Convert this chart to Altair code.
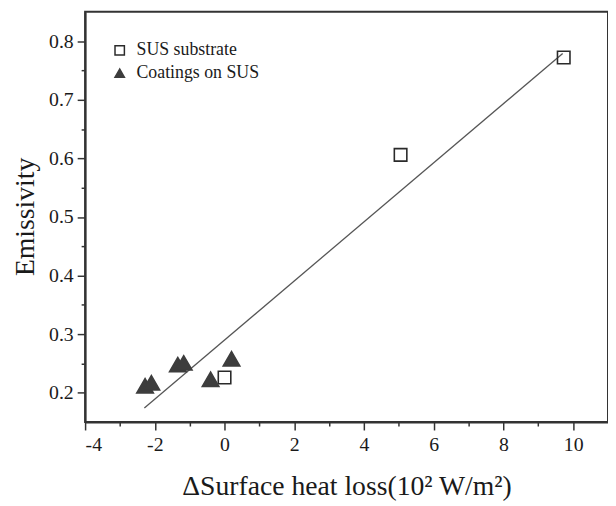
import altair as alt
import pandas as pd

series_names = ["SUS substrate", "Coatings on SUS"]

sus_x = [0.0, 5.05, 9.73]
sus_y = [0.226, 0.606, 0.772]

coat_x = [-2.28, -2.10, -1.34, -1.17, -0.40, 0.20]
coat_y = [0.212, 0.217, 0.248, 0.251, 0.223, 0.258]

fit_x = [-2.3, 9.7]
fit_y = [0.174, 0.779]

x_major = [-4, -2, 0, 2, 4, 6, 8, 10]
x_minor = [-3, -1, 1, 3, 5, 7, 9]
y_major = [0.2, 0.3, 0.4, 0.5, 0.6, 0.7, 0.8]
y_minor = [0.25, 0.35, 0.45, 0.55, 0.65, 0.75]

sus_df = pd.DataFrame({"x": sus_x, "y": sus_y, "series": series_names[0]})
coat_df = pd.DataFrame({"x": coat_x, "y": coat_y, "series": series_names[1]})
fit_df = pd.DataFrame({"x": fit_x, "y": fit_y})

FONT = "Liberation Serif"
xs = alt.Scale(domain=[-4, 11], nice=False, zero=False)
ys = alt.Scale(domain=[0.15, 0.85], nice=False, zero=False)

x_major_axis = alt.Axis(
    orient="bottom", values=x_major, labelExpr="'' + datum.value",
    tickSize=8, labelPadding=5, title="ΔSurface heat loss(10² W/m²)",
    titleY=73, titleBaseline="alphabetic",
)
y_major_axis = alt.Axis(
    orient="left", values=y_major, format=".1f", tickSize=8, labelPadding=4,
    title="Emissivity", titleX=-52, titleY=207, titleBaseline="alphabetic",
    titleAlign="center", titleAngle=270,
)
x_minor_axis = alt.Axis(orient="bottom", values=x_minor, labels=False, tickSize=4,
                        domain=False, title=None)
y_minor_axis = alt.Axis(orient="left", values=y_minor, labels=False, tickSize=4,
                        domain=False, title=None)

legend = alt.Legend(
    title=None, orient="none", legendX=26, legendY=30, symbolSize=90,
    labelFontSize=18, labelFont=FONT, labelColor="#1a1a1a", padding=0,
    rowPadding=5, labelOffset=8, symbolStrokeWidth=1.5,
)
shape_scale = alt.Scale(domain=series_names, range=["square", "triangle-up"])
fill_scale = alt.Scale(domain=series_names, range=["transparent", "#3d3d3d"])
stroke_scale = alt.Scale(domain=series_names, range=["#2a2a2a", "#3d3d3d"])

line = alt.Chart(fit_df).mark_line(color="#555555", strokeWidth=1.3).encode(
    x=alt.X("x:Q", scale=xs, axis=x_major_axis),
    y=alt.Y("y:Q", scale=ys, axis=y_major_axis),
)
minor = alt.Chart(fit_df).mark_point(opacity=0).encode(
    x=alt.X("x:Q", scale=xs, axis=x_minor_axis),
    y=alt.Y("y:Q", scale=ys, axis=y_minor_axis),
)

def pts(df, size):
    return alt.Chart(df).mark_point(filled=True, size=size, strokeWidth=1.6, opacity=1).encode(
        x=alt.X("x:Q", scale=xs, axis=None),
        y=alt.Y("y:Q", scale=ys, axis=None),
        shape=alt.Shape("series:N", scale=shape_scale, legend=legend),
        fill=alt.Fill("series:N", scale=fill_scale, legend=legend),
        stroke=alt.Stroke("series:N", scale=stroke_scale, legend=legend),
    )

chart = alt.layer(line, minor, pts(sus_df, 160), pts(coat_df, 280)).resolve_axis(
    x="independent", y="independent"
).properties(
    width=529, height=415,
    autosize=alt.AutoSizeParams(type="none"),
    padding={"left": 78, "top": 1, "right": 0, "bottom": 80},
    background="white",
).configure_view(
    stroke="#333333", strokeWidth=2
).configure_axis(
    domainColor="#333333", domainWidth=2, tickColor="#333333", tickWidth=1.5,
    grid=False, labelFont=FONT, labelFontSize=20, labelColor="#1a1a1a",
    titleFont=FONT, titleFontSize=28, titleFontWeight="normal", titleColor="#1a1a1a",
)

chart.save("out.html", embed_options={"renderer": "svg", "actions": False})
